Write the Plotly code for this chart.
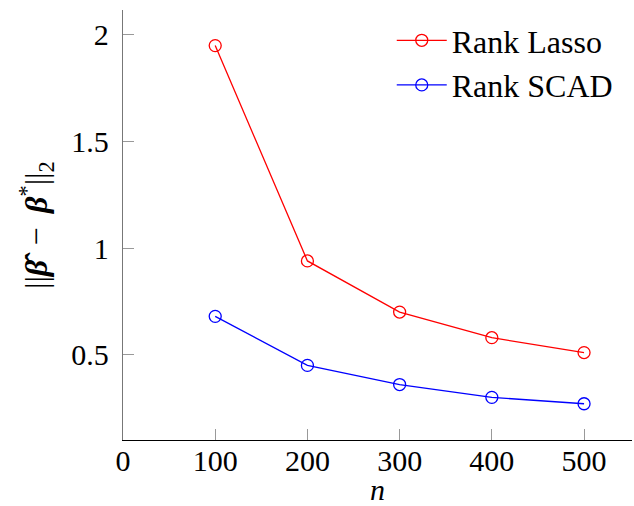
import plotly.graph_objects as go

n_values = [100, 200, 300, 400, 500]
rank_lasso = [1.95, 0.94, 0.70, 0.58, 0.51]
rank_scad = [0.68, 0.45, 0.36, 0.30, 0.27]
x_ticks = [0, 100, 200, 300, 400, 500]
y_ticks = [0.5, 1, 1.5, 2]
y_tick_labels = ["0.5", "1", "1.5", "2"]

FONT = "Liberation Serif"

fig = go.Figure()
fig.add_trace(go.Scatter(
    x=n_values, y=rank_lasso, mode="lines+markers", name="Rank Lasso",
    line=dict(color="#ff0000", width=1.3),
    marker=dict(symbol="circle-open", size=12, color="#ff0000", line=dict(width=1.3)),
))
fig.add_trace(go.Scatter(
    x=n_values, y=rank_scad, mode="lines+markers", name="Rank SCAD",
    line=dict(color="#0000ff", width=1.3),
    marker=dict(symbol="circle-open", size=12, color="#0000ff", line=dict(width=1.3)),
))

fig.update_layout(
    width=634, height=506,
    margin=dict(l=123, r=2, t=10, b=66, autoexpand=False),
    paper_bgcolor="white", plot_bgcolor="white",
    font=dict(family=FONT, size=30, color="black"),
    showlegend=True,
    legend=dict(
        x=0.528, y=0.993, xanchor="left", yanchor="top",
        bgcolor="rgba(0,0,0,0)", borderwidth=0,
        font=dict(family=FONT, size=32, color="black"),
        tracegroupgap=0, itemwidth=50,
    ),
    xaxis=dict(
        range=[0, 552], tickvals=x_ticks, ticktext=[str(v) for v in x_ticks],
        showgrid=False, zeroline=False, automargin=False,
        showline=True, linecolor="black", linewidth=1.3,
        ticks="inside", ticklen=11, tickcolor="#999999", tickwidth=1,
        ticklabelstandoff=-6,
        tickfont=dict(family=FONT, size=30),
    ),
    yaxis=dict(
        range=[0.1, 2.117], tickvals=y_ticks, ticktext=y_tick_labels,
        showgrid=False, zeroline=False, automargin=False,
        showline=True, linecolor="#777777", linewidth=1.3,
        ticks="inside", ticklen=11, tickcolor="#999999", tickwidth=1,
        ticklabelstandoff=7,
        tickfont=dict(family=FONT, size=30),
    ),
    annotations=[
        dict(text="<i>n</i>", x=0.5, y=0, xref="paper", yref="paper",
             xshift=0, yshift=-49, yanchor="middle", xanchor="center",
             showarrow=False, font=dict(family=FONT, size=30)),
        dict(text="||<b><i>β̂</i></b>\u2009 − \u2009<b><i>β</i></b><sup>*</sup>||<sub>2</sub>",
             x=0, y=0.5, xref="paper", yref="paper", xshift=-87,
             xanchor="center", yanchor="middle", textangle=-90,
             showarrow=False, font=dict(family=FONT, size=32)),
    ],
)

fig.write_html(
    "out.html",
    config={"displayModeBar": False},
    post_script="document.body.style.margin='0px';document.body.style.overflow='hidden';",
)
